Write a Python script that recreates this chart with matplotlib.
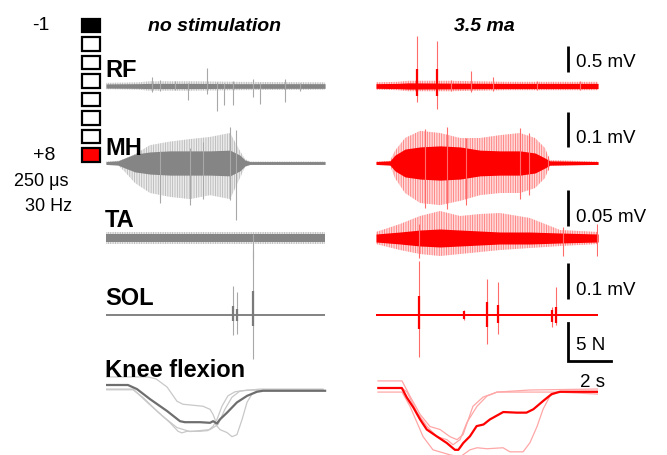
import matplotlib
matplotlib.use("Agg")
import matplotlib.pyplot as plt
from matplotlib.patches import Rectangle
import numpy as np

# ---------------- data ----------------
columns = ["no stimulation", "3.5 ma"]
muscles = ["RF", "MH", "TA", "SOL"]
force_label = "Knee flexion"
electrode_states = ["cathode", "off", "off", "off", "off", "off", "off", "anode"]
electrode_labels = ["-1", "+8"]
stim_params = ["250 μs", "30 Hz"]
emg_scales_mV = [0.5, 0.1, 0.05, 0.1]
emg_scale_labels = ["0.5 mV", "0.1 mV", "0.05 mV", "0.1 mV"]
force_scale_N = 5
time_scale_s = 2

# RF, no stimulation
rf_ns_t = [0, 1.5, 2.0, 4.0, 6.0, 10.19]
rf_ns_core = [0.04, 0.045, 0.05, 0.05, 0.045, 0.045]
rf_ns_fringe = [0.06, 0.07, 0.09, 0.09, 0.08, 0.07]
rf_ns_spk_t = [2.14, 2.51, 3.21, 3.81, 4.70, 5.16, 5.49, 5.91, 6.84, 7.16, 8.33, 9.02]
rf_ns_spk_up = [0.17, 0.12, 0.10, 0.06, 0.35, 0.08, 0.06, 0.10, 0.13, 0.06, 0.13, 0.06]
rf_ns_spk_dn = [0.12, 0.10, 0.08, 0.27, 0.15, 0.48, 0.37, 0.37, 0.21, 0.35, 0.31, 0.10]
# RF, 3.5 mA
rf_st_t = [0, 1.0, 1.5, 3.5, 6.0, 10.33]
rf_st_core = [0.045, 0.05, 0.06, 0.055, 0.05, 0.05]
rf_st_fringe = [0.07, 0.08, 0.10, 0.10, 0.08, 0.08]
rf_st_spk_t = [1.91, 2.84, 4.42, 5.44, 3.5, 7.5, 9.5]
rf_st_spk_up = [0.96, 0.87, 0.29, 0.17, 0.12, 0.10, 0.10]
rf_st_spk_dn = [0.31, 0.44, 0.12, 0.10, 0.10, 0.08, 0.08]
rf_st_big_t = [1.91, 2.84]
rf_st_big_up = [0.33, 0.33]
rf_st_big_dn = [0.19, 0.20]

# MH, no stimulation
mh_ns_t = [0, 0.56, 0.88, 1.35, 2.05, 2.98, 3.91, 4.84, 5.77, 6.23, 6.47, 6.70, 10.19]
mh_ns_core = [0.004, 0.006, 0.014, 0.025, 0.031, 0.034, 0.034, 0.034, 0.036, 0.022, 0.008, 0.004, 0.004]
mh_ns_up = [0.004, 0.006, 0.012, 0.025, 0.050, 0.060, 0.067, 0.073, 0.084, 0.034, 0.011, 0.004, 0.004]
mh_ns_dn = [0.004, 0.006, 0.025, 0.056, 0.084, 0.095, 0.101, 0.090, 0.101, 0.042, 0.011, 0.004, 0.004]
mh_ns_spk_t = [2.5, 3.9, 4.5, 5.77, 6.05]
mh_ns_spk_up = [0.034, 0.042, 0.06, 0.10, 0.092]
mh_ns_spk_dn = [0.112, 0.118, 0.10, 0.104, 0.160]
# MH, 3.5 mA
mh_st_t = [0, 0.65, 0.88, 1.35, 2.05, 2.98, 3.91, 4.84, 5.77, 6.70, 7.40, 7.86, 8.09, 10.33]
mh_st_core = [0.004, 0.006, 0.022, 0.039, 0.045, 0.048, 0.045, 0.036, 0.034, 0.034, 0.028, 0.014, 0.006, 0.004]
mh_st_up = [0.004, 0.006, 0.034, 0.070, 0.090, 0.084, 0.070, 0.070, 0.078, 0.084, 0.070, 0.042, 0.008, 0.004]
mh_st_dn = [0.004, 0.006, 0.042, 0.084, 0.112, 0.118, 0.106, 0.090, 0.084, 0.084, 0.070, 0.042, 0.008, 0.004]
mh_st_spk_t = [2.3, 3.3, 4.2, 6.7, 7.1, 8.0]
mh_st_spk_up = [0.095, 0.100, 0.07, 0.098, 0.085, 0.02]
mh_st_spk_dn = [0.125, 0.130, 0.118, 0.10, 0.09, 0.02]

# TA, no stimulation
ta_ns_t = [0, 10.19]
ta_ns_core = [0.0050, 0.0050]
ta_ns_fringe = [0.0085, 0.0085]
ta_ns_spk_t = [6.84]
ta_ns_spk_up = [0.005]
ta_ns_spk_dn = [0.029]
# TA, 3.5 mA
ta_st_t = [0, 1.12, 2.05, 2.98, 3.91, 4.84, 5.77, 7.16, 8.56, 10.33]
ta_st_core = [0.0056, 0.0084, 0.0112, 0.0126, 0.0112, 0.0098, 0.0084, 0.0084, 0.007, 0.0056]
ta_st_up = [0.0084, 0.0196, 0.0308, 0.0378, 0.0308, 0.0336, 0.035, 0.028, 0.0112, 0.0084]
ta_st_dn = [0.0084, 0.0168, 0.0224, 0.0252, 0.0224, 0.0196, 0.0168, 0.014, 0.0112, 0.0084]
ta_st_spk_t = [2.0, 8.70, 10.30]
ta_st_spk_up = [0.02, 0.0154, 0.020]
ta_st_spk_dn = [0.028, 0.025, 0.025]

# SOL, no stimulation
sol_ns_t = [0, 10.19]
sol_ns_core = [0.003, 0.003]
sol_ns_spk_t = [5.91, 6.09, 6.84]
sol_ns_spk_up = [0.081, 0.064, 0.179]
sol_ns_spk_dn = [0.056, 0.053, 0.123]
sol_ns_big_up = [0.025, 0.017, 0.067]
sol_ns_big_dn = [0.017, 0.017, 0.031]
# SOL, 3.5 mA
sol_st_t = [0, 10.33]
sol_st_core = [0.004, 0.004]
sol_st_spk_t = [2.0, 4.09, 5.16, 5.67, 8.19, 8.37]
sol_st_spk_up = [0.150, 0.014, 0.100, 0.092, 0.022, 0.078]
sol_st_spk_dn = [0.118, 0.014, 0.081, 0.053, 0.034, 0.028]
sol_st_big_up = [0.053, 0.010, 0.036, 0.028, 0.015, 0.022]
sol_st_big_dn = [0.039, 0.010, 0.034, 0.022, 0.020, 0.022]

# Knee flexion force (N), no stimulation: mean + 3 trials
kn_ns_mean_t = [0, 1.02, 1.44, 2.05, 2.84, 3.44, 3.67, 4.37, 4.84, 4.98, 5.16, 5.30, 5.63, 6.09, 6.56, 7.02, 7.30, 10.19]
kn_ns_mean = [0, 0, -0.53, -1.84, -3.38, -4.70, -4.83, -4.83, -4.91, -4.70, -5.0, -4.47, -3.59, -2.26, -1.41, -0.88, -0.75, -0.75]
kn_ns_a_t = [0, 1.26, 1.72, 2.37, 2.98, 3.35, 3.53, 3.77, 4.37, 4.74, 4.98, 5.16, 5.40, 5.67, 6.0, 6.56, 10.09]
kn_ns_a = [-0.62, -0.62, -1.62, -3.38, -4.91, -6.01, -6.22, -6.01, -6.01, -5.92, -5.36, -4.47, -2.72, -1.41, -0.88, -0.66, -0.66]
kn_ns_b_t = [0, 1.95, 2.33, 2.84, 3.30, 3.58, 4.05, 4.51, 4.84, 4.98, 5.07, 5.10, 5.30, 5.63, 5.86, 6.09, 6.33, 6.56, 6.79, 7.02, 7.30, 10.09]
kn_ns_b = [1.05, 1.05, 0.79, -0.26, -2.11, -2.5, -2.63, -2.76, -3.16, -3.82, -4.47, -5.13, -5.79, -6.18, -6.71, -6.45, -4.47, -2.24, -1.18, -0.79, -0.66, -0.66]
kn_ns_c_t = [0, 1.26, 1.91, 2.65, 3.30, 3.91, 4.84, 5.21, 5.53, 5.86, 6.23, 7.16, 10.09]
kn_ns_c = [-0.53, -0.53, -2.24, -4.08, -5.53, -6.05, -5.79, -5.13, -3.16, -1.58, -0.79, -0.53, -0.53]
# Knee flexion force (N), 3.5 mA
kn_st_mean_t = [0.11, 1.2, 1.43, 1.74, 2.05, 2.36, 2.82, 3.29, 3.67, 3.83, 4.06, 4.37, 4.68, 5.0, 5.3, 5.92, 6.54, 7.0, 7.32, 7.78, 8.17, 8.56, 10.34]
kn_st_mean = [0, 0, -1.22, -2.54, -4.08, -5.39, -6.27, -7.14, -8.03, -8.03, -7.14, -6.27, -4.95, -4.74, -4.08, -3.12, -3.2, -3.2, -2.76, -1.67, -0.79, -0.49, -0.49]
kn_st_a_t = [0.09, 1.21, 1.58, 2.05, 2.51, 2.98, 3.44, 3.77, 4.05, 4.51, 4.98, 5.63, 7.16, 10.33]
kn_st_a = [0.92, 0.92, -1.05, -3.42, -5.0, -5.39, -6.32, -6.71, -6.05, -2.37, -1.18, -0.53, -0.26, -0.13]
kn_st_b_t = [0.09, 1.21, 1.58, 2.19, 2.65, 3.12, 3.44, 3.91, 4.37, 4.70, 5.16, 5.91, 6.23, 6.84, 7.16, 7.49, 7.77, 8.09, 8.42, 10.33]
kn_st_b = [-0.53, -0.53, -2.37, -6.32, -8.03, -8.42, -8.68, -8.95, -8.03, -7.76, -7.89, -7.76, -8.29, -8.29, -7.11, -5.0, -2.76, -1.05, -0.53, -0.79]
kn_st_c_t = [0.09, 1.21, 1.44, 1.91, 2.37, 2.84, 3.30, 3.58, 3.91, 4.23, 4.70, 5.16, 5.63, 10.33]
kn_st_c = [0, 0, -0.53, -3.16, -5.0, -6.32, -6.71, -7.37, -6.71, -4.47, -2.37, -1.05, -0.53, -0.53]

# ---------------- layout / style ----------------
W, H = 667, 456
PX_PER_S = 21.5
PANEL_W = 222
COL_X = [106, 376]
ROW_Y = [87, 164, 239, 316]
KNEE_Y = [386, 389]
BAR_PX = [26, 35.7, 35.7, 35.7]
FORCE_BAR_PX = 38.5
PX_PER_UNIT = [b / v for b, v in zip(BAR_PX, emg_scales_mV)]
PX_PER_N = FORCE_BAR_PX / force_scale_N

GRAY = dict(core="#858585", fringe="#b8b8b8", spike="#a8a8a8", big="#7a7a7a",
            mean="#6e6e6e", trial="#c8c8c8")
RED = dict(core="#ff0000", fringe="#ff7a7a", spike="#ff6a6a", big="#ff0000",
           mean="#ff0000", trial="#ffa6a6")

plt.rcParams["font.family"] = ["Liberation Sans", "DejaVu Sans"]
plt.rcParams["hatch.linewidth"] = 0.6

fig = plt.figure(figsize=(W / 100, H / 100), dpi=100)
base = fig.add_axes([0, 0, 1, 1])
base.set_xlim(0, W)
base.set_ylim(H, 0)
base.axis("off")


def trace_ax(x0, yc, ppu, half=90):
    ax = fig.add_axes([x0 / W, 1 - (yc + half) / H, PANEL_W / W, 2 * half / H])
    ax.set_xlim(0, PANEL_W / PX_PER_S)
    ax.set_ylim(-half / ppu, half / ppu)
    ax.axis("off")
    ax.patch.set_alpha(0)
    return ax


def draw_emg(ax, st, t, core, up, dn, spk_t, spk_up, spk_dn,
             big_t=None, big_up=None, big_dn=None):
    t = np.asarray(t)
    lo, hi = -np.asarray(dn), np.asarray(up)
    ax.fill_between(t, lo, hi, facecolor=st["fringe"], lw=0, alpha=0.28)
    ax.fill_between(t, lo, hi, facecolor="none", edgecolor=st["fringe"], lw=0,
                    hatch="|||||||")
    if len(spk_t):
        ax.vlines(spk_t, -np.asarray(spk_dn), np.asarray(spk_up), color=st["spike"], lw=0.8)
    ax.fill_between(t, -np.asarray(core), np.asarray(core), color=st["core"], lw=0)
    if big_t is not None:
        ax.vlines(big_t, -np.asarray(big_dn), np.asarray(big_up), color=st["big"], lw=1.6)


# EMG rows
emg = [
    [(rf_ns_t, rf_ns_core, rf_ns_fringe, rf_ns_fringe, rf_ns_spk_t, rf_ns_spk_up, rf_ns_spk_dn, None, None, None),
     (rf_st_t, rf_st_core, rf_st_fringe, rf_st_fringe, rf_st_spk_t, rf_st_spk_up, rf_st_spk_dn,
      rf_st_big_t, rf_st_big_up, rf_st_big_dn)],
    [(mh_ns_t, mh_ns_core, mh_ns_up, mh_ns_dn, mh_ns_spk_t, mh_ns_spk_up, mh_ns_spk_dn, None, None, None),
     (mh_st_t, mh_st_core, mh_st_up, mh_st_dn, mh_st_spk_t, mh_st_spk_up, mh_st_spk_dn, None, None, None)],
    [(ta_ns_t, ta_ns_core, ta_ns_fringe, ta_ns_fringe, ta_ns_spk_t, ta_ns_spk_up, ta_ns_spk_dn, None, None, None),
     (ta_st_t, ta_st_core, ta_st_up, ta_st_dn, ta_st_spk_t, ta_st_spk_up, ta_st_spk_dn, None, None, None)],
    [(sol_ns_t, sol_ns_core, sol_ns_core, sol_ns_core, sol_ns_spk_t, sol_ns_spk_up, sol_ns_spk_dn,
      sol_ns_spk_t, sol_ns_big_up, sol_ns_big_dn),
     (sol_st_t, sol_st_core, sol_st_core, sol_st_core, sol_st_spk_t, sol_st_spk_up, sol_st_spk_dn,
      sol_st_spk_t, sol_st_big_up, sol_st_big_dn)],
]

for r in range(4):
    for c, st in enumerate([GRAY, RED]):
        ax = trace_ax(COL_X[c], ROW_Y[r], PX_PER_UNIT[r])
        draw_emg(ax, st, *emg[r][c])

# knee flexion
knee = [
    ((kn_ns_mean_t, kn_ns_mean), [(kn_ns_a_t, kn_ns_a), (kn_ns_b_t, kn_ns_b), (kn_ns_c_t, kn_ns_c)]),
    ((kn_st_mean_t, kn_st_mean), [(kn_st_a_t, kn_st_a), (kn_st_b_t, kn_st_b), (kn_st_c_t, kn_st_c)]),
]
for c, st in enumerate([GRAY, RED]):
    ax = trace_ax(COL_X[c], KNEE_Y[c], PX_PER_N)
    for tt, vv in knee[c][1]:
        ax.plot(tt, vv, color=st["trial"], lw=0.9)
    ax.plot(knee[c][0][0], knee[c][0][1], color=st["mean"], lw=1.6)

# overlay for text and annotations
top = fig.add_axes([0, 0, 1, 1])
top.set_xlim(0, W)
top.set_ylim(H, 0)
top.axis("off")
top.patch.set_alpha(0)

for c, title in enumerate(columns):
    top.text(COL_X[c] + PANEL_W / 2 - 3, 31, title, ha="center", va="baseline",
             fontsize=14, fontweight="bold", fontstyle="italic")

for r, m in enumerate(muscles):
    top.text(105, [77, 155, 227, 305][r], m, ha="left", va="baseline",
             fontsize=17, fontweight="bold")
top.text(105, 377, force_label, ha="left", va="baseline", fontsize=17, fontweight="bold")

sq_colors = {"cathode": "black", "anode": "#ff0000", "off": "white"}
for i, s in enumerate(electrode_states):
    top.add_patch(Rectangle((82, 19.5 + i * 18.57), 18, 13.5, facecolor=sq_colors[s],
                            edgecolor="black", lw=1.6))
top.text(41, 30, electrode_labels[0], ha="center", va="baseline", fontsize=14)
top.text(44, 160, electrode_labels[1], ha="center", va="baseline", fontsize=14)
top.text(68, 186, stim_params[0], ha="right", va="baseline", fontsize=13)
top.text(72, 211, stim_params[1], ha="right", va="baseline", fontsize=13)

bar_x = 568
bar_tops = [47, 112.7, 191, 264.3]
label_base = [67, 143, 222, 295]
for r in range(4):
    y0 = bar_tops[r]
    top.plot([bar_x, bar_x], [y0, y0 + emg_scales_mV[r] * PX_PER_UNIT[r]],
             color="black", lw=2, solid_capstyle="butt")
    top.text(bar_x + 8, label_base[r], emg_scale_labels[r], ha="left", va="baseline", fontsize=13.5)
ftop = 323.5
fbot = ftop + force_scale_N * PX_PER_N
top.plot([bar_x, bar_x, bar_x + time_scale_s * PX_PER_S], [ftop, fbot, fbot],
         color="black", lw=2, solid_joinstyle="miter")
top.text(bar_x + 8, 350, f"{force_scale_N} N", ha="left", va="baseline", fontsize=13.5)
top.text(bar_x + 25, 387, f"{time_scale_s} s", ha="center", va="baseline", fontsize=13.5)

fig.savefig("out.png", dpi=100)
